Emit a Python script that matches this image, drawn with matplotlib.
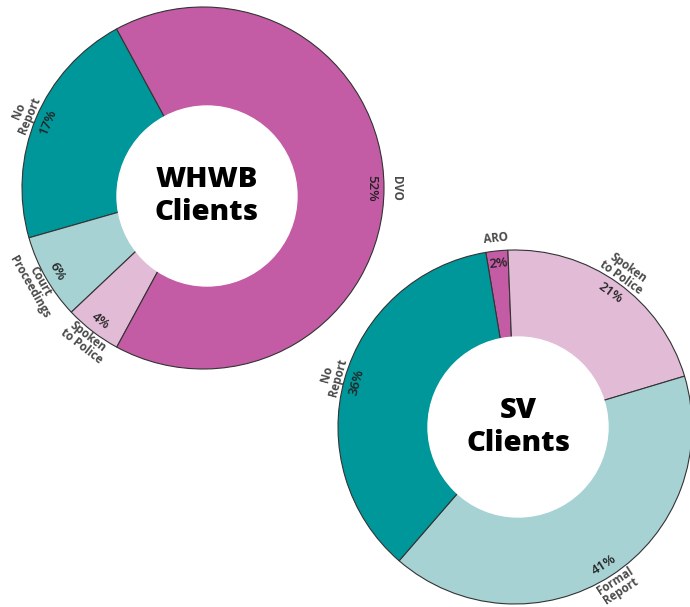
"""
Two donut charts: reporting outcomes for WHWB clients and SV clients.
"""
import matplotlib
matplotlib.use("Agg")
import matplotlib.pyplot as plt
import numpy as np

# data
whwb_labels = ['No\nReport', 'Court\nProceedings', 'Spoken\nto Police', 'DVO']
whwb_values = [17, 6, 4, 52]
whwb_pct = ['17%', '6%', '4%', '52%']

sv_labels = ['ARO', 'Spoken\nto Police', 'Formal\nReport', 'No\nReport']
sv_values = [2, 21, 41, 36]
sv_pct = ['2%', '21%', '41%', '36%']

TEAL = '#00979a'
LIGHT_TEAL = '#a7d2d4'
PINK = '#e2bbd6'
MAGENTA = '#c45ba5'

whwb_colors = [TEAL, LIGHT_TEAL, PINK, MAGENTA]
sv_colors = [MAGENTA, PINK, LIGHT_TEAL, TEAL]

W, H = 690, 607
plt.rcParams['font.family'] = ['Open Sans', 'DejaVu Sans']

fig = plt.figure(figsize=(W / 100, H / 100), dpi=100)
ax = fig.add_axes([0, 0, 1, 1])


def tangent_rot(theta):
    rot = theta - 90
    while rot > 90:
        rot -= 180
    while rot <= -90:
        rot += 180
    return rot


def donut(ax, values, labels, pcts, colors, center, radius, hole_center, hole_r,
          startangle, counterclock, title):
    wedges, _ = ax.pie(values, colors=colors, center=center, radius=radius,
                       startangle=startangle, counterclock=counterclock,
                       wedgeprops=dict(edgecolor='#333333', linewidth=0.8))
    ax.add_patch(plt.Circle(hole_center, hole_r, color='white', zorder=5))
    for w, lab, pct in zip(wedges, labels, pcts):
        mid = (w.theta1 + w.theta2) / 2
        rot = tangent_rot(mid)
        a = np.deg2rad(mid)
        r_pct = radius * 0.93
        ax.text(center[0] + r_pct * np.cos(a), center[1] + r_pct * np.sin(a), pct,
                rotation=rot, ha='center', va='center', fontsize=9.5,
                fontweight='semibold', color='#222222', rotation_mode='anchor',
                zorder=6)
        r_lab = radius * (1.07 if '\n' in lab else 1.07)
        ax.text(center[0] + r_lab * np.cos(a), center[1] + r_lab * np.sin(a), lab,
                rotation=rot, ha='center', va='center', fontsize=8.3,
                fontweight='bold', color='#4a4a4a', linespacing=0.9,
                rotation_mode='anchor', zorder=6)
    ax.text(hole_center[0], hole_center[1], title, ha='center', va='center',
            fontsize=21, fontweight='heavy', color='black', linespacing=1.15,
            zorder=7)


# left donut (pixel coords, y measured upward)
donut(ax, whwb_values, whwb_labels, whwb_pct, whwb_colors,
      center=(203, H - 188), radius=181, hole_center=(207, H - 196), hole_r=90,
      startangle=118.5, counterclock=True, title='WHWB\nClients')

# right donut
donut(ax, sv_values, sv_labels, sv_pct, sv_colors,
      center=(515, H - 427), radius=177, hole_center=(518, H - 427), hole_r=90,
      startangle=99.5, counterclock=False, title='SV\nClients')

ax.set_xlim(0, W)
ax.set_ylim(0, H)
ax.set_aspect('equal')
ax.axis('off')

fig.savefig('out.png', dpi=100)
